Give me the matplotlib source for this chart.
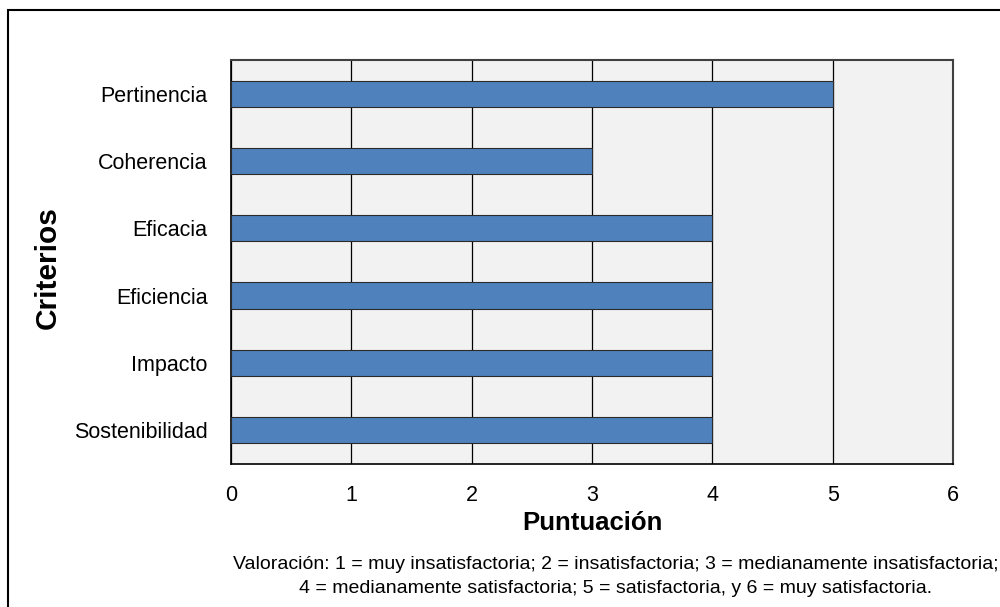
import matplotlib.pyplot as plt
from matplotlib.patches import Rectangle

criterios = ["Pertinencia", "Coherencia", "Eficacia", "Eficiencia", "Impacto", "Sostenibilidad"]
puntuacion = [5, 3, 4, 4, 4, 4]
x_ticks = [0, 1, 2, 3, 4, 5, 6]
nota_1 = "Valoración: 1 = muy insatisfactoria; 2 = insatisfactoria; 3 = medianamente insatisfactoria;"
nota_2 = "4 = medianamente satisfactoria; 5 = satisfactoria, y 6 = muy satisfactoria."

plt.rcParams['font.family'] = ['Liberation Sans', 'DejaVu Sans']

fig = plt.figure(figsize=(10, 6.07), dpi=100)
ax = fig.add_axes([0.231, 0.236, 0.722, 0.665])

# marco exterior del grafico
fig.patches.append(Rectangle((0.008, -0.1), 1.5, 1.084, transform=fig.transFigure,
                             fill=False, edgecolor='black', linewidth=1.5))

ypos = range(len(criterios))
ax.barh(ypos, puntuacion, height=0.39, color='#4f81bd', edgecolor='#2b2b2b',
        linewidth=0.8, zorder=3)

ax.set_facecolor('#f2f2f2')
ax.set_xlim(0, 6)
ax.set_ylim(len(criterios) - 0.5, -0.5)
ax.set_xticks(x_ticks)
ax.set_yticks(list(ypos))
ax.set_yticklabels(criterios)
ax.grid(axis='x', color='black', linewidth=0.9, zorder=0)
ax.set_axisbelow(True)
ax.tick_params(axis='both', length=0, labelsize=15.5)
ax.tick_params(axis='y', pad=17)
ax.tick_params(axis='x', pad=15)

for side in ['left', 'bottom']:
    ax.spines[side].set_color('black')
    ax.spines[side].set_linewidth(1.2)
for side in ['top', 'right']:
    ax.spines[side].set_color('#404040')
    ax.spines[side].set_linewidth(1.5)

ax.set_xlabel("Puntuación", fontsize=18.5, fontweight='bold', labelpad=4)
# el original usa una fuente estrecha; se reduce el tamano para igualar el ancho
fig.text(0.048, 0.56, "Criterios", rotation=90, fontsize=21.5, fontweight='bold',
         ha='center', va='center')

fig.text(0.616, 0.0626, nota_1, fontsize=14, ha='center', va='baseline')
fig.text(0.616, 0.0231, nota_2, fontsize=14, ha='center', va='baseline')

fig.savefig("out.png", dpi=100)
